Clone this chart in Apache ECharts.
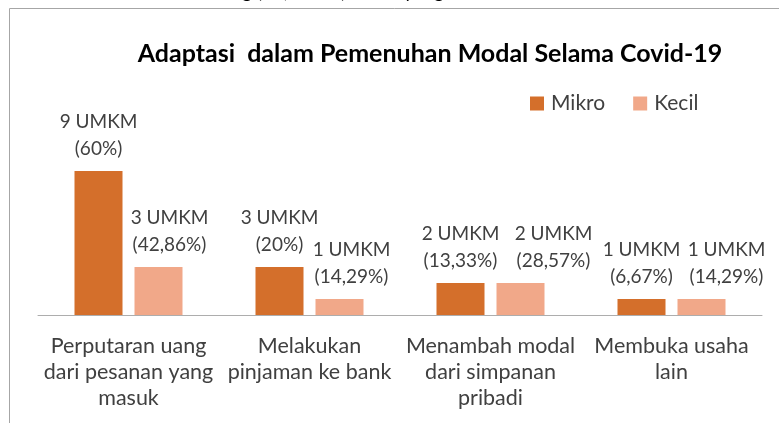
<!DOCTYPE html>
<html>
<head>
<meta charset="utf-8">
<script src="https://cdn.jsdelivr.net/npm/echarts@6/dist/echarts.min.js"></script>
<style>
    html, body { margin: 0; padding: 0; background: #fff; }
    #chart_adaptasi { width: 779px; height: 423px; }
</style>
</head>
<body>
<div id="chart_adaptasi"></div>
<script>

// Data
// ------------------------------

var categories = [
    'Perputaran uang\ndari pesanan yang\nmasuk',
    'Melakukan\npinjaman ke bank',
    'Menambah modal\ndari simpanan\npribadi',
    'Membuka usaha\nlain'
];
var mikroValues = [9, 3, 2, 1];
var kecilValues = [3, 1, 2, 1];
var mikroPct = ['60%', '20%', '13,33%', '6,67%'];
var kecilPct = ['42,86%', '14,29%', '28,57%', '14,29%'];

// label nudges (Excel pushed some Kecil labels to the right)
var kecilLabelShift = [11, 12, 33, 25];


// Setup chart
// ------------------------------

var chartFont = 'Lato, "Open Sans", sans-serif';
var mikroColor = '#D46F2B';
var kecilColor = '#F1A889';

var chart_element = document.getElementById('chart_adaptasi');
var chart_adaptasi = echarts.init(chart_element, null, { renderer: 'canvas' });

var buildData = function(values, pct, shift) {
    return values.map(function(v, i) {
        var item = { value: v, pct: pct[i] };
        if (shift) {
            item.label = { offset: [shift[i], 0] };
        }
        return item;
    });
};

var labelOpts = {
    show: true,
    position: 'top',
    distance: 9,
    color: '#404040',
    fontFamily: chartFont,
    fontSize: 19,
    lineHeight: 27,
    formatter: function(p) {
        return p.value + ' UMKM\n(' + p.data.pct + ')';
    }
};

chart_adaptasi.setOption({

    animation: false,

    textStyle: {
        fontFamily: chartFont
    },

    // Title
    title: {
        text: 'Adaptasi  dalam Pemenuhan Modal Selama Covid-19',
        left: 425,
        top: 36,
        textAlign: 'center',
        textStyle: {
            fontFamily: chartFont,
            fontSize: 25,
            fontWeight: 'bold',
            color: '#000'
        }
    },

    // Legend
    legend: {
        data: ['Mikro', 'Kecil'],
        left: 530,
        top: 93,
        padding: 0,
        icon: 'rect',
        itemWidth: 14,
        itemHeight: 14,
        itemGap: 28,
        textStyle: {
            fontFamily: chartFont,
            fontSize: 21,
            color: '#404040',
            padding: [0, 0, 0, 2]
        }
    },

    // Grid
    grid: {
        left: 38,
        right: 17,
        top: 155,
        bottom: 108
    },

    // Horizontal axis
    xAxis: {
        type: 'category',
        data: categories,
        axisTick: { show: false },
        axisLine: {
            lineStyle: { color: '#ADADAD', width: 1 }
        },
        axisLabel: {
            interval: 0,
            margin: 18,
            color: '#404040',
            fontFamily: chartFont,
            fontSize: 21.5,
            lineHeight: 26
        }
    },

    // Vertical axis (hidden)
    yAxis: {
        type: 'value',
        min: 0,
        max: 10,
        show: false,
        splitLine: { show: false }
    },

    // Frame of the original figure
    graphic: [
        {
            type: 'text',
            style: {
                text: 'g (15, 100%) untuk yang',
                x: 242,
                y: 1,
                verticalAlign: 'bottom',
                font: '19px ' + chartFont,
                fill: '#000'
            }
        },
        {
            type: 'polyline',
            shape: { points: [[9.5, 423], [9.5, 8.5], [779, 8.5]] },
            style: { stroke: '#A6A6A6', lineWidth: 1, fill: null }
        }
    ],

    // Series
    series: [
        {
            name: 'Mikro',
            type: 'bar',
            barWidth: 48,
            barGap: '25%',
            itemStyle: { color: mikroColor },
            label: labelOpts,
            data: buildData(mikroValues, mikroPct)
        },
        {
            name: 'Kecil',
            type: 'bar',
            barWidth: 48,
            barGap: '25%',
            itemStyle: { color: kecilColor },
            label: labelOpts,
            data: buildData(kecilValues, kecilPct, kecilLabelShift)
        }
    ]
});

</script>
</body>
</html>
